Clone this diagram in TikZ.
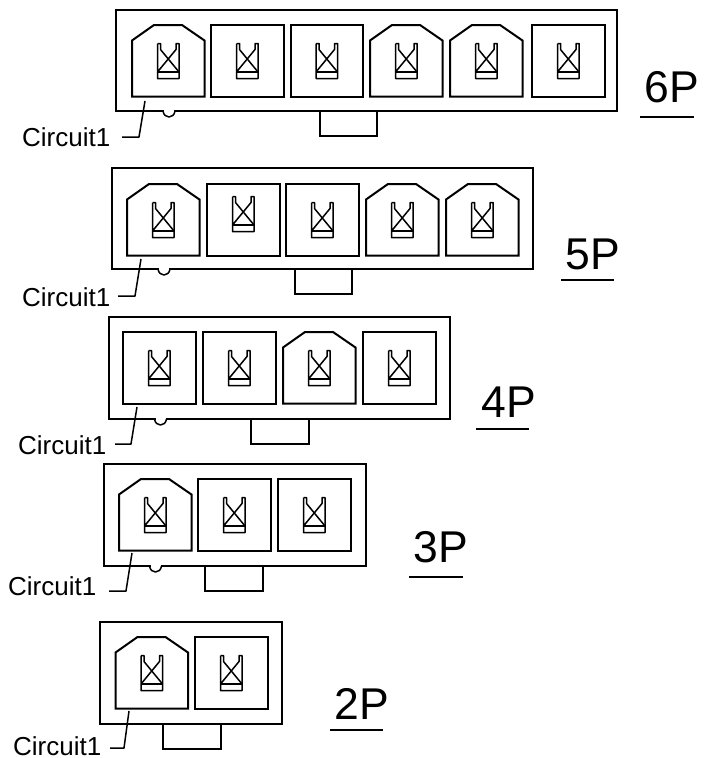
\documentclass[tikz,border=0pt]{standalone}
\usepackage{fontspec}
\setmainfont{Liberation Sans}
\tikzset{
  outline/.style={line width=1.6pt,line join=miter,black},
  cavity line/.style={line width=2pt,line join=miter,black},
  thin part/.style={line width=1.5pt,line join=round},
  circuit label/.style={inner sep=0pt,font=\fontsize{26}{28}\selectfont},
  size label/.style={inner sep=0pt,font=\fontsize{44.5}{46}\selectfont},
  terminal/.pic={
    \draw[thin part] (0,0) -- (0,35) -- (21.5,35) -- (21.5,0) -- (18.5,0) -- (18.5,6) -- (0,28.5);
    \draw[thin part] (0,0) -- (3,0) -- (3,6) -- (21.5,28.5);
    \draw[thin part] (0,28.5) -- (21.5,28.5);
  },
  sqcav/.pic={
    \draw[cavity line] (0,0) -- (72.5,0) -- (72.5,71.5) -- (0,71.5) -- cycle;
    \pic at (25.5,18.5) {terminal};
  },
  hicav/.pic={
    \draw[cavity line] (0,0) -- (72.5,0) -- (72.5,71.5) -- (0,71.5) -- cycle;
    \pic at (25.5,12.5) {terminal};
  },
  hexcav/.pic={
    \draw[cavity line] (0,15.5) -- (22,0) -- (50,0) -- (72.5,15.5) -- (72.5,71.5) -- (0,71.5) -- cycle;
    \pic at (25.5,18.5) {terminal};
  },
  notch/.pic={
    \draw[white,line width=2.4pt] (1,0) -- (11,0);
    \draw[thin part] (0,0) .. controls (1,8) and (11,8) .. (12,0);
  },
  tab/.pic={
    \draw[cavity line] (0,0) -- (0,25) -- (57.5,25) -- (57.5,0);
  },
}

\begin{document}
\begin{tikzpicture}[x=1pt,y=-1pt]
  \useasboundingbox (0,0) rectangle (704,758);

  % 6P
  \draw[outline] (116,10) rectangle (617,111);
  \foreach \x/\c in {132/hexcav,211/sqcav,290.5/sqcav,370/hexcav,450/hexcav,532/sqcav}
    \pic at (\x,25) {\c};
  \pic at (163,111) {notch};
  \pic at (319.5,111) {tab};
  \node[circuit label,anchor=west] (circ6) at (22,137) {Circuit1};
  \coordinate (lead6) at (145,101);
  \coordinate (bend6) at (139,137);
  \coordinate (free6) at (122,137);
  \draw[thin part] (lead6) -- (bend6) -- (free6);
  \node[size label] (size6) at (671.5,87) {6P};
  \coordinate (ula6) at (640,117);
  \coordinate (ulb6) at (694,117);
  \draw[thin part] (ula6) -- (ulb6);

  % 5P
  \draw[outline] (112,168) rectangle (533,269);
  \foreach \x/\c in {127/hexcav,207/hicav,286/sqcav,366/hexcav,446/hexcav}
    \pic at (\x,184) {\c};
  \pic at (158,269) {notch};
  \pic at (294.5,269) {tab};
  \node[circuit label,anchor=west] (circ5) at (22,297) {Circuit1};
  \coordinate (lead5) at (141,259);
  \coordinate (bend5) at (135,296);
  \coordinate (free5) at (118,296);
  \draw[thin part] (lead5) -- (bend5) -- (free5);
  \node[size label] (size5) at (592.5,254) {5P};
  \coordinate (ula5) at (561,280);
  \coordinate (ulb5) at (614,280);
  \draw[thin part] (ula5) -- (ulb5);

  % 4P
  \draw[outline] (109,317) rectangle (450,419);
  \foreach \x/\c in {123/sqcav,203/sqcav,283/hexcav,363/sqcav}
    \pic at (\x,332) {\c};
  \pic at (154.5,419) {notch};
  \pic at (251,419) {tab};
  \node[circuit label,anchor=west] (circ4) at (18,445) {Circuit1};
  \coordinate (lead4) at (137,407);
  \coordinate (bend4) at (131,444);
  \coordinate (free4) at (115,444);
  \draw[thin part] (lead4) -- (bend4) -- (free4);
  \node[size label] (size4) at (508.5,402) {4P};
  \coordinate (ula4) at (476,429);
  \coordinate (ulb4) at (529,429);
  \draw[thin part] (ula4) -- (ulb4);

  % 3P
  \draw[outline] (104,464) rectangle (366,566);
  \foreach \x/\c in {119/hexcav,198/sqcav,278/sqcav}
    \pic at (\x,479) {\c};
  \pic at (149.5,566) {notch};
  \pic at (205,566) {tab};
  \node[circuit label,anchor=west] (circ3) at (8,586) {Circuit1};
  \coordinate (lead3) at (132,553);
  \coordinate (bend3) at (126,591);
  \coordinate (free3) at (109,591);
  \draw[thin part] (lead3) -- (bend3) -- (free3);
  \node[size label] (size3) at (440.5,547) {3P};
  \coordinate (ula3) at (409,577);
  \coordinate (ulb3) at (463,577);
  \draw[thin part] (ula3) -- (ulb3);

  % 2P
  \draw[outline] (100,622) rectangle (282,724);
  \foreach \x/\c in {115.5/hexcav,195/sqcav}
    \pic at (\x,637) {\c};
  \pic at (163,724) {tab};
  \node[circuit label,anchor=west] (circ2) at (13,746) {Circuit1};
  \coordinate (lead2) at (129,711);
  \coordinate (bend2) at (124,748);
  \coordinate (free2) at (110,748);
  \draw[thin part] (lead2) -- (bend2) -- (free2);
  \node[size label] (size2) at (362,704) {2P};
  \coordinate (ula2) at (330,730);
  \coordinate (ulb2) at (383,730);
  \draw[thin part] (ula2) -- (ulb2);
\end{tikzpicture}
\end{document}
